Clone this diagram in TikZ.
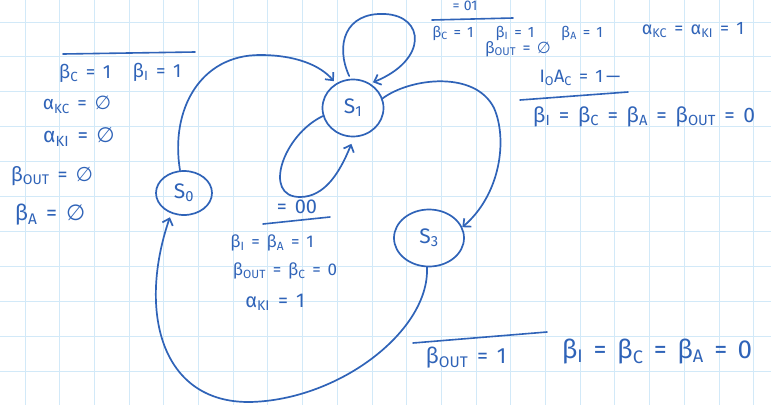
\documentclass[tikz,border=0pt]{standalone}
\usepackage{fontspec}
\setmainfont{Fira Sans}
\newfontfamily\symf{DejaVu Sans}
\usetikzlibrary{arrows.meta,shapes.geometric}
\definecolor{ink}{HTML}{2F63B8}
\definecolor{gridc}{HTML}{D2E9F8}
\newcommand\fsz[1]{\fontsize{#1}{#1}\selectfont}
\newcommand\eqs{\hspace{0.4em}=\hspace{0.4em}}
\newcommand\empt{{\symf ∅}}
\newcommand\sub[1]{\textsubscript{#1}}
\begin{document}
\begin{tikzpicture}[x=1pt,y=-1pt,
  lab/.style={text=ink, inner sep=0pt, font=\fsz{#1}},
  lab/.default=16,
  state/.style={ellipse, draw=ink, line width=1.7pt, inner sep=0pt, text=ink, font=\fsz{21}},
  edge/.style={draw=ink, line width=1.7pt, line cap=round,
    -{Straight Barb[length=6pt,width=11pt,line width=1.7pt]}},
  rule/.style={draw=ink, line width=1.6pt, line cap=round}]
\useasboundingbox (0,0) rectangle (771,405);
\fill[white] (0,0) rectangle (771,405);
\foreach \i in {0,...,21} \draw[gridc, line width=1pt] ({25+34.7*\i},0) -- ++(0,405);
\foreach \j in {0,...,10} \draw[gridc, line width=1pt] (0,{22+34.9*\j}) -- ++(771,0);

% states
\node[state, minimum width=56, minimum height=44] (s0) at (184,193) {S\sub{0}};
\node[state, minimum width=61, minimum height=57] (s1) at (353,108) {S\sub{1}};
\node[state, minimum width=70, minimum height=57] (s3) at (429,238) {S\sub{3}};

% transitions
\draw[edge, shorten >=3pt] (s0.100) .. controls (170,110) and (200,55) .. (260,55)
   .. controls (295,55) and (320,65) .. (s1.125);
\draw[edge, shorten <=3pt, shorten >=3pt] (s1.95) .. controls (335,45) and (345,12) .. (385,14)
   .. controls (425,16) and (428,60) .. (s1.55);
\draw[edge, shorten >=7pt] (s1.195) .. controls (283,135) and (262,197) .. (300,197)
   .. controls (325,197) and (340,172) .. (s1.272);
\draw[edge] (s1.18) .. controls (410,78) and (475,70) .. (494,108)
   .. controls (508,140) and (500,195) .. (s3.18);
\draw[edge, shorten >=4pt] (s3.266) .. controls (430,330) and (340,400) .. (250,402)
   .. controls (160,403) and (138,310) .. (s0.238);

% left label (S0 -> S1)
\draw[rule] (63,54) coordinate (l1a) -- (195,52) coordinate (l1b);
\node[lab=19] (la1) at (85,73) {β\sub{C}\eqs 1};
\node[lab=19] (la2) at (157,72) {β\sub{I}\eqs 1};
\node[lab=19] (la3) at (77,105) {α\sub{KC}\eqs\empt};
\node[lab=21] (la4) at (79,137) {α\sub{KI}\eqs\empt};
\node[lab=20] (la5) at (52,176) {β\sub{OUT}\eqs\empt};
\node[lab=22] (la6) at (50,215) {β\sub{A}\eqs\empt};

% middle label (S1 -> S1, lower loop)
\node[lab=20] (lm0) at (297,207) {=\hspace{0.4em}00};
\draw[rule] (263,224) coordinate (l2a) -- (330,217) coordinate (l2b);
\node[lab=17] (lm1) at (272,243) {β\sub{I}\eqs β\sub{A}\eqs 1};
\node[lab=17] (lm2) at (285,271) {β\sub{OUT}\eqs β\sub{C}\eqs 0};
\node[lab=20] (lm3) at (275,302) {α\sub{KI}\eqs 1};

% top label (S1 -> S1, upper loop)
\node[lab=14] (lt0) at (465,6) {=\hspace{0.3em}01};
\draw[rule] (432,20) coordinate (l3a) -- (513,18) coordinate (l3b);
\node[lab=15] (lt1) at (453,33) {β\sub{C}\eqs 1};
\node[lab=15] (lt2) at (515,33) {β\sub{I}\eqs 1};
\node[lab=15] (lt3) at (582,33) {β\sub{A}\eqs 1};
\node[lab=18] (lt4) at (693,30) {α\sub{KC}\eqs α\sub{KI}\eqs 1};
\node[lab=16] (lt5) at (518,49) {β\sub{OUT}\eqs\empt};

% S1 -> S3 label
\node[lab=18] (lr0) at (580,78) {I\sub{O}A\sub{C}\eqs 1\,—};
\draw[rule] (520,100) coordinate (l4a) -- (628,92) coordinate (l4b);
\node[lab=21] (lr1) at (644,117) {β\sub{I}\eqs β\sub{C}\eqs β\sub{A}\eqs β\sub{OUT}\eqs 0};

% S3 -> S0 label
\draw[rule] (413,343) coordinate (l5a) -- (547,332) coordinate (l5b);
\node[lab=22] (lb1) at (466,358) {β\sub{OUT}\eqs 1};
\node[lab=26] (lb2) at (657,352) {β\sub{I}\eqs β\sub{C}\eqs β\sub{A}\eqs 0};
\end{tikzpicture}
\end{document}
